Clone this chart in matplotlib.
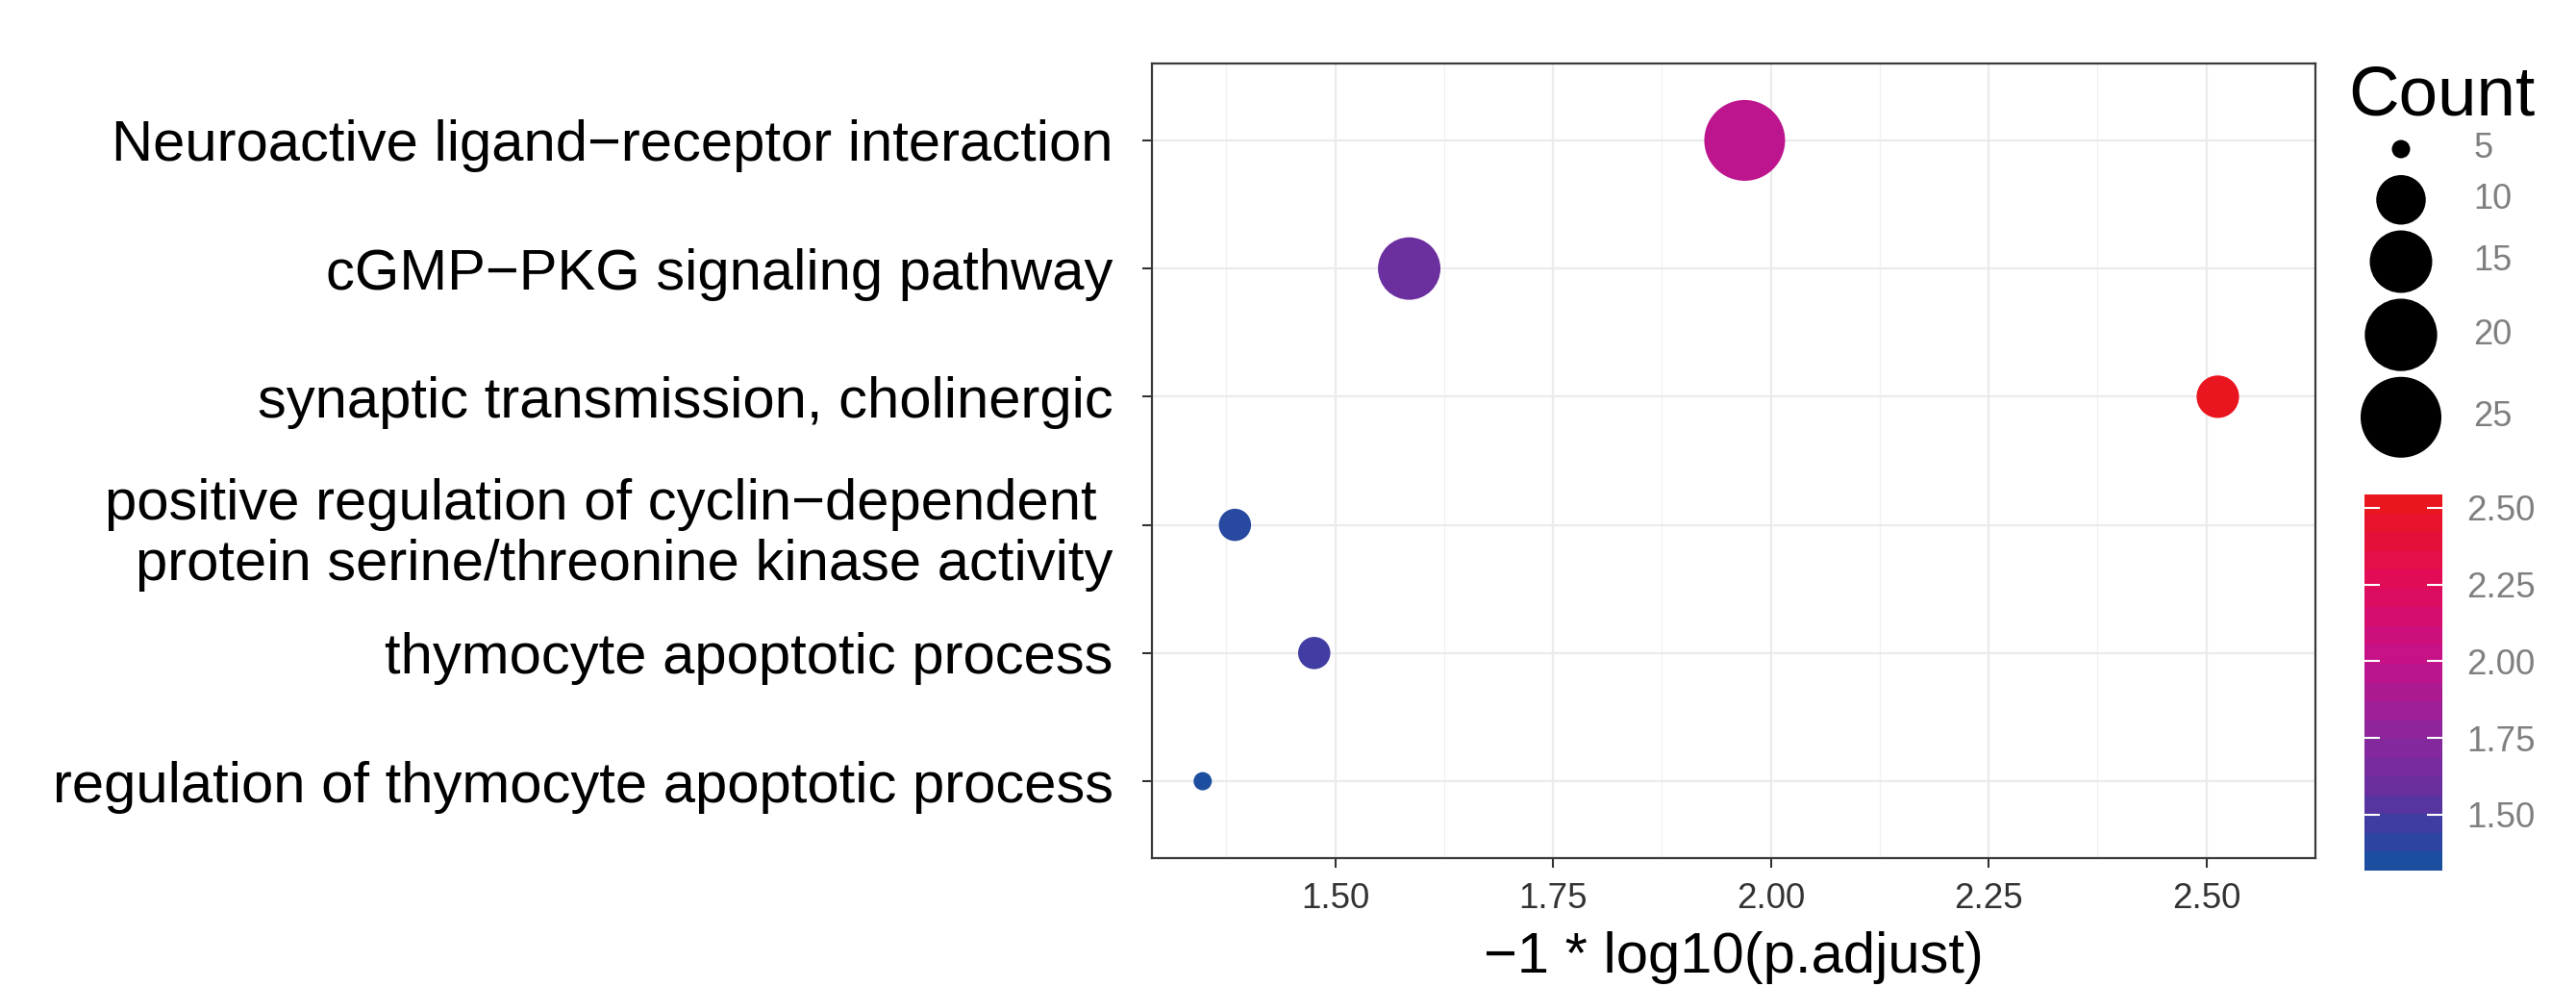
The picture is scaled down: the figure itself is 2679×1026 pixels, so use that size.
import numpy as np
import matplotlib
matplotlib.use("Agg")
import matplotlib.pyplot as plt
from matplotlib.colors import LinearSegmentedColormap, Normalize

plt.rcParams['font.family'] = ['Liberation Sans', 'DejaVu Sans']

# enrichment terms, top to bottom
terms = [
    "Neuroactive ligand\u2212receptor interaction",
    "cGMP\u2212PKG signaling pathway",
    "synaptic transmission, cholinergic",
    "positive regulation of cyclin\u2212dependent \nprotein serine/threonine kinase activity",
    "thymocyte apoptotic process",
    "regulation of thymocyte apoptotic process",
]
neg_log_padj = [1.970, 1.585, 2.513, 1.385, 1.476, 1.348]
counts = [25, 15, 8, 6, 6, 5]

size_breaks = [5, 10, 15, 20, 25]
x_ticks = [1.50, 1.75, 2.00, 2.25, 2.50]

W, H, DPI = 2679, 1026, 100

# ggplot-like area scale: diameter grows with sqrt of rescaled count
cmin, cmax = min(counts), max(counts)
def diam_px(c):
    f = (np.asarray(c, dtype=float) - cmin) / (cmax - cmin)
    return 19 + 65 * np.sqrt(f)

def area_pt(c):
    return (diam_px(c) * 72 / DPI) ** 2

cmap = LinearSegmentedColormap.from_list('blue_red', [
    (0.00, '#1c4e9f'), (0.12, '#463ba2'), (0.20, '#6a2f9f'),
    (0.345, '#8a279d'), (0.56, '#c4128c'), (0.775, '#e20b5a'),
    (1.00, '#e9151f')])
vmin, vmax = min(neg_log_padj), max(neg_log_padj)
norm = Normalize(vmin, vmax)

fig = plt.figure(figsize=(W / DPI, H / DPI), dpi=DPI)

def px_axes(x0, y0, x1, y1):
    # box given in figure pixels, y measured from the top
    return fig.add_axes([x0 / W, 1 - y1 / H, (x1 - x0) / W, (y1 - y0) / H])

# main panel
ax = px_axes(1198, 66, 2408, 892)
ypos = np.arange(len(terms))
span = vmax - vmin
ax.set_xlim(vmin - 0.05 * span, vmax + 0.05 * span)
ax.set_ylim(len(terms) - 0.4, -0.6)

step = x_ticks[1] - x_ticks[0]
ax.set_xticks(x_ticks)
ax.set_xticklabels([f'{t:.2f}' for t in x_ticks])
ax.set_xticks(np.arange(x_ticks[0] - step / 2, x_ticks[-1] + step, step), minor=True)
ax.set_yticks(ypos)
ax.set_yticklabels(terms, fontsize=43, linespacing=1.2)

ax.grid(which='major', color='#ebebeb', lw=1.6)
ax.grid(which='minor', axis='x', color='#f1f1f1', lw=0.9)
ax.set_axisbelow(True)

ax.scatter(neg_log_padj, ypos, s=area_pt(counts), c=neg_log_padj,
           cmap=cmap, norm=norm, linewidths=0, zorder=3)

ax.tick_params(axis='x', which='major', length=7, width=1.5, color='#333333',
               labelsize=26.5, labelcolor='#333333', pad=11)
ax.tick_params(axis='y', which='major', length=7, width=1.5, color='#333333',
               labelcolor='black', pad=22)
ax.tick_params(which='minor', length=0)
for sp in ax.spines.values():
    sp.set_color('#3a3a3a')
    sp.set_linewidth(1.6)

ax.set_xlabel('\u22121 * log10(p.adjust)', fontsize=43)
ax.xaxis.set_label_coords(0.5, (892 - 1011) / (892 - 66))
ax.xaxis.label.set_va('baseline')

# size legend
lax = px_axes(2380, 40, 2679, 480)
lax.set_xlim(2380, 2679)
lax.set_ylim(480, 40)
lax.axis('off')
lax.text(2442, 119, 'Count', fontsize=52.5, ha='left', va='baseline')
key_d = diam_px(size_breaks)
key_h = np.maximum(key_d + 6, 48)
key_y = (155 - key_h[0] / 2) + np.cumsum(key_h) - key_h / 2
lax.scatter(np.full(len(size_breaks), 2497), key_y, s=area_pt(size_breaks),
            color='black', linewidths=0, clip_on=False)
for b, yk in zip(size_breaks, key_y):
    lax.text(2572, yk, str(b), fontsize=26, color='#7f7f7f', ha='left', va='center')

# colour bar (20 bins, ticks at bin centres)
cax = px_axes(2459, 514, 2540, 905)
bins = np.linspace(vmin, vmax, 20)
hb = (vmax - vmin) / 38
cax.imshow(bins[:, None], cmap=cmap, norm=norm, origin='lower', aspect='auto',
           extent=(0, 1, vmin - hb, vmax + hb), interpolation='nearest')
cax.set_xlim(0, 1)
cax.set_ylim(vmin - hb, vmax + hb)
cax.set_xticks([])
cax.set_yticks(x_ticks)
cax.set_yticklabels([f'{t:.2f}' for t in x_ticks])
cax.tick_params(axis='y', direction='in', left=True, right=True, length=11.5,
                width=1.5, color='white', labelleft=False, labelright=True,
                labelsize=26.5, labelcolor='#7f7f7f', pad=18)
for sp in cax.spines.values():
    sp.set_visible(False)

fig.savefig('out.png', dpi=DPI, facecolor='white')
